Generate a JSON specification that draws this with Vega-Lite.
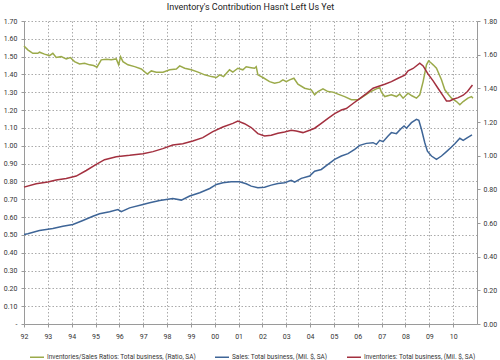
{
  "$schema": "https://vega.github.io/schema/vega-lite/v6.json",
  "width": 453,
  "height": 303,
  "autosize": "none",
  "padding": {"left": 24, "top": 21, "right": 23, "bottom": 36},
  "background": "white",
  "title": {"text": "Inventory's Contribution Hasn't Left Us Yet", "font": "Roboto", "fontSize": 9, "fontWeight": "normal", "color": "#222222", "anchor": "middle", "frame": "group", "offset": 5},
  "config": {
    "font": "Roboto",
    "view": {"stroke": null},
    "axis": {"labelFont": "Roboto", "labelFontSize": 7, "labelColor": "#333333", "domainColor": "#9a9a9a", "tickColor": "#9a9a9a", "tickSize": 3, "gridColor": "#aaaaaa", "gridDash": [1.5, 2], "gridWidth": 1, "title": null, "labelOverlap": false},
    "legend": {"labelFont": "Roboto", "labelFontSize": 6.5, "labelColor": "#333333"}
  },
  "datasets": {
    "ratio": [
      {"t": 1992.0, "v": 1.560, "series": "Inventories/Sales Ratios: Total business, (Ratio, SA)"},
      {"t": 1992.16, "v": 1.538, "series": "Inventories/Sales Ratios: Total business, (Ratio, SA)"},
      {"t": 1992.37, "v": 1.519, "series": "Inventories/Sales Ratios: Total business, (Ratio, SA)"},
      {"t": 1992.58, "v": 1.519, "series": "Inventories/Sales Ratios: Total business, (Ratio, SA)"},
      {"t": 1992.65, "v": 1.525, "series": "Inventories/Sales Ratios: Total business, (Ratio, SA)"},
      {"t": 1992.86, "v": 1.514, "series": "Inventories/Sales Ratios: Total business, (Ratio, SA)"},
      {"t": 1993.07, "v": 1.506, "series": "Inventories/Sales Ratios: Total business, (Ratio, SA)"},
      {"t": 1993.21, "v": 1.519, "series": "Inventories/Sales Ratios: Total business, (Ratio, SA)"},
      {"t": 1993.35, "v": 1.495, "series": "Inventories/Sales Ratios: Total business, (Ratio, SA)"},
      {"t": 1993.56, "v": 1.500, "series": "Inventories/Sales Ratios: Total business, (Ratio, SA)"},
      {"t": 1993.77, "v": 1.487, "series": "Inventories/Sales Ratios: Total business, (Ratio, SA)"},
      {"t": 1993.94, "v": 1.495, "series": "Inventories/Sales Ratios: Total business, (Ratio, SA)"},
      {"t": 1994.12, "v": 1.472, "series": "Inventories/Sales Ratios: Total business, (Ratio, SA)"},
      {"t": 1994.33, "v": 1.459, "series": "Inventories/Sales Ratios: Total business, (Ratio, SA)"},
      {"t": 1994.54, "v": 1.463, "series": "Inventories/Sales Ratios: Total business, (Ratio, SA)"},
      {"t": 1994.75, "v": 1.454, "series": "Inventories/Sales Ratios: Total business, (Ratio, SA)"},
      {"t": 1994.92, "v": 1.450, "series": "Inventories/Sales Ratios: Total business, (Ratio, SA)"},
      {"t": 1995.06, "v": 1.441, "series": "Inventories/Sales Ratios: Total business, (Ratio, SA)"},
      {"t": 1995.24, "v": 1.482, "series": "Inventories/Sales Ratios: Total business, (Ratio, SA)"},
      {"t": 1995.45, "v": 1.486, "series": "Inventories/Sales Ratios: Total business, (Ratio, SA)"},
      {"t": 1995.66, "v": 1.482, "series": "Inventories/Sales Ratios: Total business, (Ratio, SA)"},
      {"t": 1995.87, "v": 1.487, "series": "Inventories/Sales Ratios: Total business, (Ratio, SA)"},
      {"t": 1995.97, "v": 1.454, "series": "Inventories/Sales Ratios: Total business, (Ratio, SA)"},
      {"t": 1996.05, "v": 1.500, "series": "Inventories/Sales Ratios: Total business, (Ratio, SA)"},
      {"t": 1996.15, "v": 1.472, "series": "Inventories/Sales Ratios: Total business, (Ratio, SA)"},
      {"t": 1996.36, "v": 1.454, "series": "Inventories/Sales Ratios: Total business, (Ratio, SA)"},
      {"t": 1996.64, "v": 1.444, "series": "Inventories/Sales Ratios: Total business, (Ratio, SA)"},
      {"t": 1996.92, "v": 1.431, "series": "Inventories/Sales Ratios: Total business, (Ratio, SA)"},
      {"t": 1997.17, "v": 1.402, "series": "Inventories/Sales Ratios: Total business, (Ratio, SA)"},
      {"t": 1997.34, "v": 1.420, "series": "Inventories/Sales Ratios: Total business, (Ratio, SA)"},
      {"t": 1997.55, "v": 1.413, "series": "Inventories/Sales Ratios: Total business, (Ratio, SA)"},
      {"t": 1997.83, "v": 1.413, "series": "Inventories/Sales Ratios: Total business, (Ratio, SA)"},
      {"t": 1998.11, "v": 1.426, "series": "Inventories/Sales Ratios: Total business, (Ratio, SA)"},
      {"t": 1998.39, "v": 1.431, "series": "Inventories/Sales Ratios: Total business, (Ratio, SA)"},
      {"t": 1998.53, "v": 1.448, "series": "Inventories/Sales Ratios: Total business, (Ratio, SA)"},
      {"t": 1998.74, "v": 1.435, "series": "Inventories/Sales Ratios: Total business, (Ratio, SA)"},
      {"t": 1999.02, "v": 1.426, "series": "Inventories/Sales Ratios: Total business, (Ratio, SA)"},
      {"t": 1999.30, "v": 1.413, "series": "Inventories/Sales Ratios: Total business, (Ratio, SA)"},
      {"t": 1999.58, "v": 1.398, "series": "Inventories/Sales Ratios: Total business, (Ratio, SA)"},
      {"t": 1999.86, "v": 1.388, "series": "Inventories/Sales Ratios: Total business, (Ratio, SA)"},
      {"t": 2000.07, "v": 1.383, "series": "Inventories/Sales Ratios: Total business, (Ratio, SA)"},
      {"t": 2000.21, "v": 1.398, "series": "Inventories/Sales Ratios: Total business, (Ratio, SA)"},
      {"t": 2000.37, "v": 1.388, "series": "Inventories/Sales Ratios: Total business, (Ratio, SA)"},
      {"t": 2000.62, "v": 1.426, "series": "Inventories/Sales Ratios: Total business, (Ratio, SA)"},
      {"t": 2000.76, "v": 1.413, "series": "Inventories/Sales Ratios: Total business, (Ratio, SA)"},
      {"t": 2000.97, "v": 1.435, "series": "Inventories/Sales Ratios: Total business, (Ratio, SA)"},
      {"t": 2001.18, "v": 1.426, "series": "Inventories/Sales Ratios: Total business, (Ratio, SA)"},
      {"t": 2001.32, "v": 1.443, "series": "Inventories/Sales Ratios: Total business, (Ratio, SA)"},
      {"t": 2001.53, "v": 1.438, "series": "Inventories/Sales Ratios: Total business, (Ratio, SA)"},
      {"t": 2001.67, "v": 1.435, "series": "Inventories/Sales Ratios: Total business, (Ratio, SA)"},
      {"t": 2001.74, "v": 1.444, "series": "Inventories/Sales Ratios: Total business, (Ratio, SA)"},
      {"t": 2001.81, "v": 1.398, "series": "Inventories/Sales Ratios: Total business, (Ratio, SA)"},
      {"t": 2002.02, "v": 1.383, "series": "Inventories/Sales Ratios: Total business, (Ratio, SA)"},
      {"t": 2002.30, "v": 1.360, "series": "Inventories/Sales Ratios: Total business, (Ratio, SA)"},
      {"t": 2002.51, "v": 1.351, "series": "Inventories/Sales Ratios: Total business, (Ratio, SA)"},
      {"t": 2002.72, "v": 1.357, "series": "Inventories/Sales Ratios: Total business, (Ratio, SA)"},
      {"t": 2002.86, "v": 1.370, "series": "Inventories/Sales Ratios: Total business, (Ratio, SA)"},
      {"t": 2003.00, "v": 1.360, "series": "Inventories/Sales Ratios: Total business, (Ratio, SA)"},
      {"t": 2003.14, "v": 1.370, "series": "Inventories/Sales Ratios: Total business, (Ratio, SA)"},
      {"t": 2003.32, "v": 1.379, "series": "Inventories/Sales Ratios: Total business, (Ratio, SA)"},
      {"t": 2003.49, "v": 1.346, "series": "Inventories/Sales Ratios: Total business, (Ratio, SA)"},
      {"t": 2003.77, "v": 1.323, "series": "Inventories/Sales Ratios: Total business, (Ratio, SA)"},
      {"t": 2004.05, "v": 1.314, "series": "Inventories/Sales Ratios: Total business, (Ratio, SA)"},
      {"t": 2004.19, "v": 1.286, "series": "Inventories/Sales Ratios: Total business, (Ratio, SA)"},
      {"t": 2004.33, "v": 1.304, "series": "Inventories/Sales Ratios: Total business, (Ratio, SA)"},
      {"t": 2004.54, "v": 1.319, "series": "Inventories/Sales Ratios: Total business, (Ratio, SA)"},
      {"t": 2004.75, "v": 1.304, "series": "Inventories/Sales Ratios: Total business, (Ratio, SA)"},
      {"t": 2004.96, "v": 1.301, "series": "Inventories/Sales Ratios: Total business, (Ratio, SA)"},
      {"t": 2005.17, "v": 1.290, "series": "Inventories/Sales Ratios: Total business, (Ratio, SA)"},
      {"t": 2005.45, "v": 1.276, "series": "Inventories/Sales Ratios: Total business, (Ratio, SA)"},
      {"t": 2005.73, "v": 1.258, "series": "Inventories/Sales Ratios: Total business, (Ratio, SA)"},
      {"t": 2006.01, "v": 1.258, "series": "Inventories/Sales Ratios: Total business, (Ratio, SA)"},
      {"t": 2006.22, "v": 1.276, "series": "Inventories/Sales Ratios: Total business, (Ratio, SA)"},
      {"t": 2006.50, "v": 1.301, "series": "Inventories/Sales Ratios: Total business, (Ratio, SA)"},
      {"t": 2006.78, "v": 1.319, "series": "Inventories/Sales Ratios: Total business, (Ratio, SA)"},
      {"t": 2006.92, "v": 1.327, "series": "Inventories/Sales Ratios: Total business, (Ratio, SA)"},
      {"t": 2006.99, "v": 1.301, "series": "Inventories/Sales Ratios: Total business, (Ratio, SA)"},
      {"t": 2007.13, "v": 1.276, "series": "Inventories/Sales Ratios: Total business, (Ratio, SA)"},
      {"t": 2007.41, "v": 1.286, "series": "Inventories/Sales Ratios: Total business, (Ratio, SA)"},
      {"t": 2007.62, "v": 1.276, "series": "Inventories/Sales Ratios: Total business, (Ratio, SA)"},
      {"t": 2007.76, "v": 1.290, "series": "Inventories/Sales Ratios: Total business, (Ratio, SA)"},
      {"t": 2007.90, "v": 1.267, "series": "Inventories/Sales Ratios: Total business, (Ratio, SA)"},
      {"t": 2008.11, "v": 1.295, "series": "Inventories/Sales Ratios: Total business, (Ratio, SA)"},
      {"t": 2008.25, "v": 1.282, "series": "Inventories/Sales Ratios: Total business, (Ratio, SA)"},
      {"t": 2008.46, "v": 1.267, "series": "Inventories/Sales Ratios: Total business, (Ratio, SA)"},
      {"t": 2008.60, "v": 1.286, "series": "Inventories/Sales Ratios: Total business, (Ratio, SA)"},
      {"t": 2008.74, "v": 1.360, "series": "Inventories/Sales Ratios: Total business, (Ratio, SA)"},
      {"t": 2008.88, "v": 1.454, "series": "Inventories/Sales Ratios: Total business, (Ratio, SA)"},
      {"t": 2008.97, "v": 1.476, "series": "Inventories/Sales Ratios: Total business, (Ratio, SA)"},
      {"t": 2009.09, "v": 1.463, "series": "Inventories/Sales Ratios: Total business, (Ratio, SA)"},
      {"t": 2009.16, "v": 1.454, "series": "Inventories/Sales Ratios: Total business, (Ratio, SA)"},
      {"t": 2009.30, "v": 1.435, "series": "Inventories/Sales Ratios: Total business, (Ratio, SA)"},
      {"t": 2009.51, "v": 1.370, "series": "Inventories/Sales Ratios: Total business, (Ratio, SA)"},
      {"t": 2009.65, "v": 1.314, "series": "Inventories/Sales Ratios: Total business, (Ratio, SA)"},
      {"t": 2009.81, "v": 1.286, "series": "Inventories/Sales Ratios: Total business, (Ratio, SA)"},
      {"t": 2009.93, "v": 1.267, "series": "Inventories/Sales Ratios: Total business, (Ratio, SA)"},
      {"t": 2010.14, "v": 1.248, "series": "Inventories/Sales Ratios: Total business, (Ratio, SA)"},
      {"t": 2010.28, "v": 1.230, "series": "Inventories/Sales Ratios: Total business, (Ratio, SA)"},
      {"t": 2010.42, "v": 1.248, "series": "Inventories/Sales Ratios: Total business, (Ratio, SA)"},
      {"t": 2010.62, "v": 1.267, "series": "Inventories/Sales Ratios: Total business, (Ratio, SA)"},
      {"t": 2010.77, "v": 1.276, "series": "Inventories/Sales Ratios: Total business, (Ratio, SA)"},
      {"t": 2010.83, "v": 1.267, "series": "Inventories/Sales Ratios: Total business, (Ratio, SA)"}
    ],
    "levels": [
      {"t": 1992.0, "v": 0.532, "series": "Sales: Total business, (Mil. $, SA)"},
      {"t": 1992.16, "v": 0.536, "series": "Sales: Total business, (Mil. $, SA)"},
      {"t": 1992.65, "v": 0.555, "series": "Sales: Total business, (Mil. $, SA)"},
      {"t": 1993.21, "v": 0.567, "series": "Sales: Total business, (Mil. $, SA)"},
      {"t": 1993.63, "v": 0.581, "series": "Sales: Total business, (Mil. $, SA)"},
      {"t": 1994.05, "v": 0.591, "series": "Sales: Total business, (Mil. $, SA)"},
      {"t": 1994.47, "v": 0.615, "series": "Sales: Total business, (Mil. $, SA)"},
      {"t": 1994.89, "v": 0.640, "series": "Sales: Total business, (Mil. $, SA)"},
      {"t": 1995.17, "v": 0.655, "series": "Sales: Total business, (Mil. $, SA)"},
      {"t": 1995.59, "v": 0.667, "series": "Sales: Total business, (Mil. $, SA)"},
      {"t": 1995.94, "v": 0.680, "series": "Sales: Total business, (Mil. $, SA)"},
      {"t": 1996.08, "v": 0.667, "series": "Sales: Total business, (Mil. $, SA)"},
      {"t": 1996.43, "v": 0.690, "series": "Sales: Total business, (Mil. $, SA)"},
      {"t": 1996.99, "v": 0.710, "series": "Sales: Total business, (Mil. $, SA)"},
      {"t": 1997.27, "v": 0.720, "series": "Sales: Total business, (Mil. $, SA)"},
      {"t": 1997.69, "v": 0.734, "series": "Sales: Total business, (Mil. $, SA)"},
      {"t": 1998.24, "v": 0.746, "series": "Sales: Total business, (Mil. $, SA)"},
      {"t": 1998.60, "v": 0.736, "series": "Sales: Total business, (Mil. $, SA)"},
      {"t": 1998.95, "v": 0.760, "series": "Sales: Total business, (Mil. $, SA)"},
      {"t": 1999.37, "v": 0.780, "series": "Sales: Total business, (Mil. $, SA)"},
      {"t": 1999.79, "v": 0.805, "series": "Sales: Total business, (Mil. $, SA)"},
      {"t": 2000.07, "v": 0.829, "series": "Sales: Total business, (Mil. $, SA)"},
      {"t": 2000.34, "v": 0.839, "series": "Sales: Total business, (Mil. $, SA)"},
      {"t": 2000.69, "v": 0.845, "series": "Sales: Total business, (Mil. $, SA)"},
      {"t": 2001.04, "v": 0.845, "series": "Sales: Total business, (Mil. $, SA)"},
      {"t": 2001.32, "v": 0.833, "series": "Sales: Total business, (Mil. $, SA)"},
      {"t": 2001.53, "v": 0.819, "series": "Sales: Total business, (Mil. $, SA)"},
      {"t": 2001.81, "v": 0.810, "series": "Sales: Total business, (Mil. $, SA)"},
      {"t": 2002.09, "v": 0.813, "series": "Sales: Total business, (Mil. $, SA)"},
      {"t": 2002.37, "v": 0.825, "series": "Sales: Total business, (Mil. $, SA)"},
      {"t": 2002.65, "v": 0.835, "series": "Sales: Total business, (Mil. $, SA)"},
      {"t": 2002.93, "v": 0.839, "series": "Sales: Total business, (Mil. $, SA)"},
      {"t": 2003.21, "v": 0.853, "series": "Sales: Total business, (Mil. $, SA)"},
      {"t": 2003.35, "v": 0.843, "series": "Sales: Total business, (Mil. $, SA)"},
      {"t": 2003.63, "v": 0.865, "series": "Sales: Total business, (Mil. $, SA)"},
      {"t": 2003.98, "v": 0.879, "series": "Sales: Total business, (Mil. $, SA)"},
      {"t": 2004.19, "v": 0.908, "series": "Sales: Total business, (Mil. $, SA)"},
      {"t": 2004.47, "v": 0.918, "series": "Sales: Total business, (Mil. $, SA)"},
      {"t": 2004.75, "v": 0.948, "series": "Sales: Total business, (Mil. $, SA)"},
      {"t": 2005.03, "v": 0.978, "series": "Sales: Total business, (Mil. $, SA)"},
      {"t": 2005.31, "v": 0.998, "series": "Sales: Total business, (Mil. $, SA)"},
      {"t": 2005.59, "v": 1.012, "series": "Sales: Total business, (Mil. $, SA)"},
      {"t": 2005.87, "v": 1.038, "series": "Sales: Total business, (Mil. $, SA)"},
      {"t": 2006.08, "v": 1.061, "series": "Sales: Total business, (Mil. $, SA)"},
      {"t": 2006.36, "v": 1.073, "series": "Sales: Total business, (Mil. $, SA)"},
      {"t": 2006.64, "v": 1.077, "series": "Sales: Total business, (Mil. $, SA)"},
      {"t": 2006.78, "v": 1.067, "series": "Sales: Total business, (Mil. $, SA)"},
      {"t": 2006.92, "v": 1.091, "series": "Sales: Total business, (Mil. $, SA)"},
      {"t": 2007.06, "v": 1.083, "series": "Sales: Total business, (Mil. $, SA)"},
      {"t": 2007.27, "v": 1.117, "series": "Sales: Total business, (Mil. $, SA)"},
      {"t": 2007.41, "v": 1.137, "series": "Sales: Total business, (Mil. $, SA)"},
      {"t": 2007.62, "v": 1.131, "series": "Sales: Total business, (Mil. $, SA)"},
      {"t": 2007.83, "v": 1.163, "series": "Sales: Total business, (Mil. $, SA)"},
      {"t": 2007.94, "v": 1.176, "series": "Sales: Total business, (Mil. $, SA)"},
      {"t": 2008.04, "v": 1.163, "series": "Sales: Total business, (Mil. $, SA)"},
      {"t": 2008.25, "v": 1.196, "series": "Sales: Total business, (Mil. $, SA)"},
      {"t": 2008.46, "v": 1.216, "series": "Sales: Total business, (Mil. $, SA)"},
      {"t": 2008.56, "v": 1.210, "series": "Sales: Total business, (Mil. $, SA)"},
      {"t": 2008.67, "v": 1.157, "series": "Sales: Total business, (Mil. $, SA)"},
      {"t": 2008.81, "v": 1.077, "series": "Sales: Total business, (Mil. $, SA)"},
      {"t": 2008.92, "v": 1.027, "series": "Sales: Total business, (Mil. $, SA)"},
      {"t": 2009.09, "v": 0.998, "series": "Sales: Total business, (Mil. $, SA)"},
      {"t": 2009.30, "v": 0.978, "series": "Sales: Total business, (Mil. $, SA)"},
      {"t": 2009.51, "v": 0.998, "series": "Sales: Total business, (Mil. $, SA)"},
      {"t": 2009.72, "v": 1.024, "series": "Sales: Total business, (Mil. $, SA)"},
      {"t": 2009.93, "v": 1.051, "series": "Sales: Total business, (Mil. $, SA)"},
      {"t": 2010.07, "v": 1.071, "series": "Sales: Total business, (Mil. $, SA)"},
      {"t": 2010.28, "v": 1.103, "series": "Sales: Total business, (Mil. $, SA)"},
      {"t": 2010.42, "v": 1.091, "series": "Sales: Total business, (Mil. $, SA)"},
      {"t": 2010.60, "v": 1.107, "series": "Sales: Total business, (Mil. $, SA)"},
      {"t": 2010.79, "v": 1.123, "series": "Sales: Total business, (Mil. $, SA)"},
      {"t": 1992.0, "v": 0.813, "series": "Inventories: Total business, (Mil. $, SA)"},
      {"t": 1992.51, "v": 0.833, "series": "Inventories: Total business, (Mil. $, SA)"},
      {"t": 1993.00, "v": 0.843, "series": "Inventories: Total business, (Mil. $, SA)"},
      {"t": 1993.35, "v": 0.855, "series": "Inventories: Total business, (Mil. $, SA)"},
      {"t": 1993.77, "v": 0.865, "series": "Inventories: Total business, (Mil. $, SA)"},
      {"t": 1994.19, "v": 0.879, "series": "Inventories: Total business, (Mil. $, SA)"},
      {"t": 1994.61, "v": 0.912, "series": "Inventories: Total business, (Mil. $, SA)"},
      {"t": 1995.03, "v": 0.948, "series": "Inventories: Total business, (Mil. $, SA)"},
      {"t": 1995.38, "v": 0.976, "series": "Inventories: Total business, (Mil. $, SA)"},
      {"t": 1995.87, "v": 0.994, "series": "Inventories: Total business, (Mil. $, SA)"},
      {"t": 1996.43, "v": 1.002, "series": "Inventories: Total business, (Mil. $, SA)"},
      {"t": 1996.99, "v": 1.012, "series": "Inventories: Total business, (Mil. $, SA)"},
      {"t": 1997.41, "v": 1.024, "series": "Inventories: Total business, (Mil. $, SA)"},
      {"t": 1997.82, "v": 1.042, "series": "Inventories: Total business, (Mil. $, SA)"},
      {"t": 1998.24, "v": 1.063, "series": "Inventories: Total business, (Mil. $, SA)"},
      {"t": 1998.66, "v": 1.071, "series": "Inventories: Total business, (Mil. $, SA)"},
      {"t": 1999.08, "v": 1.087, "series": "Inventories: Total business, (Mil. $, SA)"},
      {"t": 1999.50, "v": 1.107, "series": "Inventories: Total business, (Mil. $, SA)"},
      {"t": 1999.92, "v": 1.143, "series": "Inventories: Total business, (Mil. $, SA)"},
      {"t": 2000.34, "v": 1.170, "series": "Inventories: Total business, (Mil. $, SA)"},
      {"t": 2000.76, "v": 1.192, "series": "Inventories: Total business, (Mil. $, SA)"},
      {"t": 2000.97, "v": 1.206, "series": "Inventories: Total business, (Mil. $, SA)"},
      {"t": 2001.25, "v": 1.190, "series": "Inventories: Total business, (Mil. $, SA)"},
      {"t": 2001.53, "v": 1.167, "series": "Inventories: Total business, (Mil. $, SA)"},
      {"t": 2001.81, "v": 1.131, "series": "Inventories: Total business, (Mil. $, SA)"},
      {"t": 2002.09, "v": 1.117, "series": "Inventories: Total business, (Mil. $, SA)"},
      {"t": 2002.37, "v": 1.121, "series": "Inventories: Total business, (Mil. $, SA)"},
      {"t": 2002.65, "v": 1.133, "series": "Inventories: Total business, (Mil. $, SA)"},
      {"t": 2002.93, "v": 1.141, "series": "Inventories: Total business, (Mil. $, SA)"},
      {"t": 2003.21, "v": 1.151, "series": "Inventories: Total business, (Mil. $, SA)"},
      {"t": 2003.42, "v": 1.146, "series": "Inventories: Total business, (Mil. $, SA)"},
      {"t": 2003.70, "v": 1.137, "series": "Inventories: Total business, (Mil. $, SA)"},
      {"t": 2003.98, "v": 1.151, "series": "Inventories: Total business, (Mil. $, SA)"},
      {"t": 2004.19, "v": 1.163, "series": "Inventories: Total business, (Mil. $, SA)"},
      {"t": 2004.47, "v": 1.192, "series": "Inventories: Total business, (Mil. $, SA)"},
      {"t": 2004.75, "v": 1.222, "series": "Inventories: Total business, (Mil. $, SA)"},
      {"t": 2005.03, "v": 1.250, "series": "Inventories: Total business, (Mil. $, SA)"},
      {"t": 2005.31, "v": 1.271, "series": "Inventories: Total business, (Mil. $, SA)"},
      {"t": 2005.52, "v": 1.280, "series": "Inventories: Total business, (Mil. $, SA)"},
      {"t": 2005.80, "v": 1.310, "series": "Inventories: Total business, (Mil. $, SA)"},
      {"t": 2006.08, "v": 1.339, "series": "Inventories: Total business, (Mil. $, SA)"},
      {"t": 2006.36, "v": 1.369, "series": "Inventories: Total business, (Mil. $, SA)"},
      {"t": 2006.64, "v": 1.401, "series": "Inventories: Total business, (Mil. $, SA)"},
      {"t": 2006.85, "v": 1.411, "series": "Inventories: Total business, (Mil. $, SA)"},
      {"t": 2007.13, "v": 1.424, "series": "Inventories: Total business, (Mil. $, SA)"},
      {"t": 2007.41, "v": 1.440, "series": "Inventories: Total business, (Mil. $, SA)"},
      {"t": 2007.69, "v": 1.460, "series": "Inventories: Total business, (Mil. $, SA)"},
      {"t": 2007.97, "v": 1.478, "series": "Inventories: Total business, (Mil. $, SA)"},
      {"t": 2008.11, "v": 1.504, "series": "Inventories: Total business, (Mil. $, SA)"},
      {"t": 2008.32, "v": 1.518, "series": "Inventories: Total business, (Mil. $, SA)"},
      {"t": 2008.60, "v": 1.549, "series": "Inventories: Total business, (Mil. $, SA)"},
      {"t": 2008.74, "v": 1.533, "series": "Inventories: Total business, (Mil. $, SA)"},
      {"t": 2008.95, "v": 1.484, "series": "Inventories: Total business, (Mil. $, SA)"},
      {"t": 2009.16, "v": 1.444, "series": "Inventories: Total business, (Mil. $, SA)"},
      {"t": 2009.37, "v": 1.399, "series": "Inventories: Total business, (Mil. $, SA)"},
      {"t": 2009.58, "v": 1.355, "series": "Inventories: Total business, (Mil. $, SA)"},
      {"t": 2009.72, "v": 1.325, "series": "Inventories: Total business, (Mil. $, SA)"},
      {"t": 2009.86, "v": 1.325, "series": "Inventories: Total business, (Mil. $, SA)"},
      {"t": 2010.00, "v": 1.335, "series": "Inventories: Total business, (Mil. $, SA)"},
      {"t": 2010.21, "v": 1.345, "series": "Inventories: Total business, (Mil. $, SA)"},
      {"t": 2010.42, "v": 1.359, "series": "Inventories: Total business, (Mil. $, SA)"},
      {"t": 2010.60, "v": 1.381, "series": "Inventories: Total business, (Mil. $, SA)"},
      {"t": 2010.81, "v": 1.420, "series": "Inventories: Total business, (Mil. $, SA)"}
    ]
  },
  "layer": [
    {
      "data": {"name": "ratio"},
      "mark": {"type": "line", "strokeWidth": 1.5},
      "encoding": {
        "x": {"field": "t", "type": "quantitative", "scale": {"domain": [1992, 2011], "nice": false, "zero": false},
          "axis": {"values": [1992,1993,1994,1995,1996,1997,1998,1999,2000,2001,2002,2003,2004,2005,2006,2007,2008,2009,2010], "labelExpr": "slice(toString(datum.value), 2)", "grid": true, "labelPadding": 5, "labelFlush": false, "labelOverlap": false, "labelBound": false}},
        "y": {"field": "v", "type": "quantitative", "scale": {"domain": [0, 1.7], "nice": false},
          "axis": {"orient": "left", "values": [0,0.1,0.2,0.3,0.4,0.5,0.6,0.7,0.8,0.9,1.0,1.1,1.2,1.3,1.4,1.5,1.6,1.7], "labelExpr": "datum.value == 0 ? '-' : format(datum.value, '.2f')", "grid": true, "labelPadding": 4, "labelFlush": false, "labelOverlap": false}},
        "color": {"field": "series", "type": "nominal",
          "scale": {"domain": ["Inventories/Sales Ratios: Total business, (Ratio, SA)", "Sales: Total business, (Mil. $, SA)", "Inventories: Total business, (Mil. $, SA)"], "range": ["#9BAA4A", "#3E6597", "#A3303F"]},
          "legend": {"orient": "none", "legendX": 5, "legendY": 328, "direction": "horizontal", "title": null, "symbolType": "stroke", "symbolSize": 196, "symbolStrokeWidth": 1.5, "labelOffset": 2, "columnPadding": 16}}
      }
    },
    {
      "data": {"name": "levels"},
      "mark": {"type": "line", "strokeWidth": 1.5},
      "encoding": {
        "x": {"field": "t", "type": "quantitative", "scale": {"domain": [1992, 2011], "nice": false, "zero": false},
          "axis": {"values": [1992,1993,1994,1995,1996,1997,1998,1999,2000,2001,2002,2003,2004,2005,2006,2007,2008,2009,2010], "labelExpr": "slice(toString(datum.value), 2)", "grid": true, "labelPadding": 5, "labelFlush": false, "labelOverlap": false, "labelBound": false}},
        "y": {"field": "v", "type": "quantitative", "scale": {"domain": [0, 1.8], "nice": false},
          "axis": {"orient": "right", "values": [0,0.2,0.4,0.6,0.8,1.0,1.2,1.4,1.6,1.8], "format": ".2f", "grid": false, "labelPadding": 3, "labelFlush": false, "labelOverlap": false}},
        "color": {"field": "series", "type": "nominal",
          "scale": {"domain": ["Inventories/Sales Ratios: Total business, (Ratio, SA)", "Sales: Total business, (Mil. $, SA)", "Inventories: Total business, (Mil. $, SA)"], "range": ["#9BAA4A", "#3E6597", "#A3303F"]}}
      }
    }
  ],
  "resolve": {"scale": {"y": "independent"}}
}
